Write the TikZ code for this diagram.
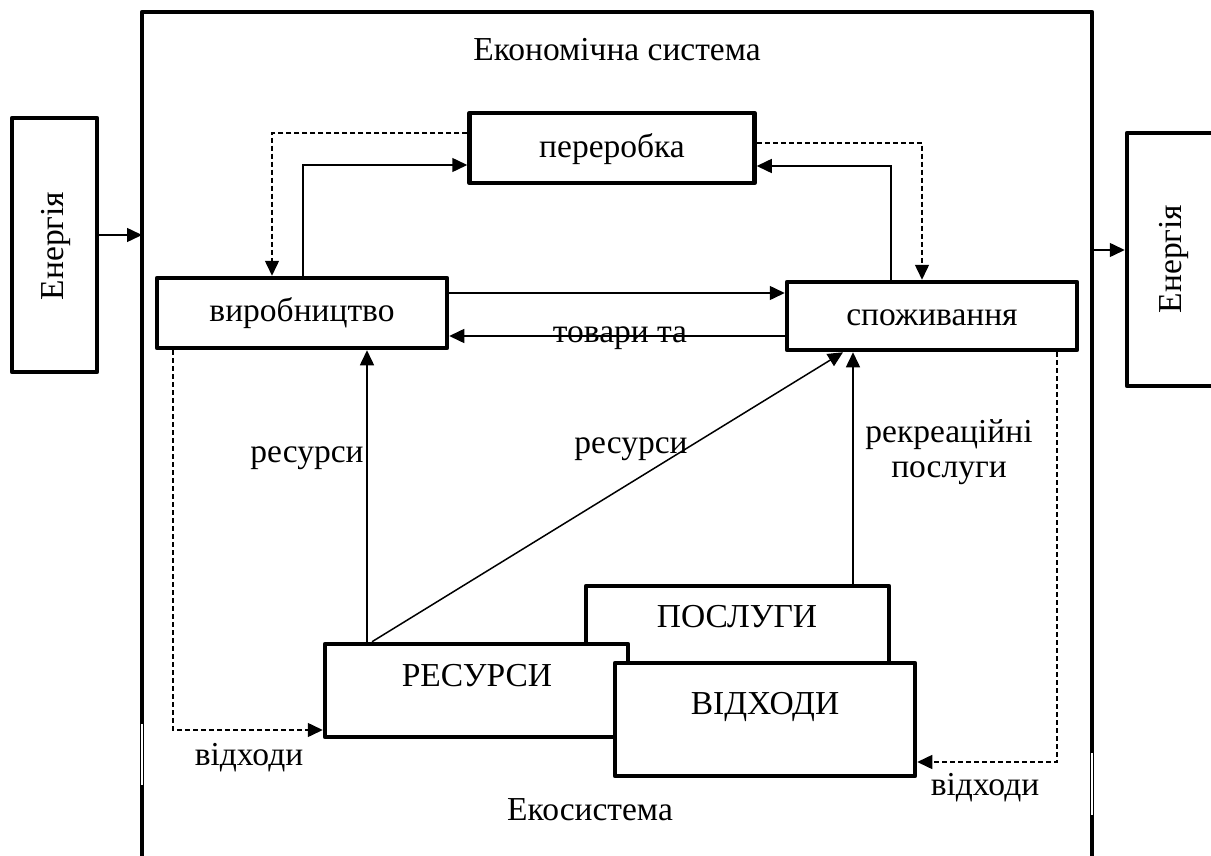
\documentclass[tikz,border=0pt]{standalone}
\usepackage{fontspec}
\setmainfont{Liberation Serif}
\usetikzlibrary{arrows.meta}
\tikzset{
  box/.style={draw, line width=4.5pt, line join=round, fill=white, inner sep=0pt},
  txt/.style={font=\fontsize{33.5}{40}\selectfont, inner sep=0pt, anchor=base},
  conn/.style={line width=1.5pt, -{Triangle[length=15pt,width=14pt]}},
  dconn/.style={conn, dash pattern=on 5pt off 3pt},
  frame/.style={line width=4.5pt, line join=round},
}
\begin{document}
\begin{tikzpicture}[x=1pt,y=-1pt]
\useasboundingbox (0,0) rectangle (1211,856);
% outer frame (open at the bottom)
\draw[frame] (142,862) -- (142,12) -- (1092,12) -- (1092,862);
\draw[white, line width=1.5pt] (142,724) -- (142,785);
\draw[white, line width=1.5pt] (1092,753) -- (1092,815);
\node[txt] (tEcon) at (617,61) {Економічна система};
\node[txt] (tEco) at (590,820) {Екосистема};

% energy boxes
\node[box, minimum width=85pt, minimum height=254pt] (enL) at (54.5,245) {};
\node[txt, rotate=90] (tenL) at (63,246) {Енергія};
\node[box, minimum width=88pt, minimum height=253pt] (enR) at (1171,259.5) {};
\node[txt, rotate=90] (tenR) at (1181,259) {Енергія};
\coordinate (fIn) at (142,235);
\coordinate (fOut) at (1092,250);
\draw[conn] (enL.east |- fIn) -- (fIn);
\draw[conn] (fOut) -- (enR.west |- fOut);

% main boxes
\node[box, minimum width=285pt, minimum height=70pt] (per) at (612,148) {};
\node[txt] (tper) at (612,158) {переробка};
\node[box, minimum width=290pt, minimum height=70pt] (vyr) at (302,313) {};
\node[txt] (tvyr) at (302,321) {виробництво};
\node[box, minimum width=290pt, minimum height=68pt] (spo) at (932,316) {};
\node[txt] (tspo) at (932,325) {споживання};

% ecosystem boxes (overlapping)
\node[box, minimum width=303pt, minimum height=84pt] (pos) at (737.5,628) {};
\node[txt] (tpos) at (737,627) {ПОСЛУГИ};
\node[box, minimum width=303pt, minimum height=93pt] (res) at (476.5,690.5) {};
\node[txt] (tres) at (477,686) {РЕСУРСИ};
\node[box, minimum width=300pt, minimum height=113pt] (vid) at (765,719.5) {};
\node[txt] (tvid) at (765,714) {ВІДХОДИ};

% connectors around переробка
\draw[dconn] (per.west |- 0,133) -| (vyr.north -| 272,0);
\draw[conn] (vyr.north -| 303,0) |- (per.west |- 0,165);
\draw[conn] (spo.north -| 891,0) |- (per.east |- 0,166);
\draw[dconn] (per.east |- 0,143) -| (spo.north -| 922,0);

% goods flows
\draw[conn] (vyr.east |- 0,293) -- (spo.west |- 0,293);
\draw[conn] (spo.west |- 0,336) -- (vyr.east |- 0,336);
\node[txt] (ttov) at (620,342) {товари та};

% resources and services
\draw[conn] (res.north -| 367,0) -- (vyr.south -| 367,0);
\node[txt] (tres1) at (307,462) {ресурси};
\draw[conn] (res.north -| 372,0) -- (spo.south -| 843,0);
\node[txt] (tres2) at (631,453) {ресурси};
\draw[conn] (pos.north -| 853,0) -- (spo.south -| 853,0);
\node[txt] (trek1) at (949,442) {рекреаційні};
\node[txt] (trek2) at (949,477) {послуги};

% wastes
\draw[dconn] (vyr.south -| 173,0) |- (res.west |- 0,730);
\node[txt] (tvid1) at (249,765) {відходи};
\draw[dconn] (spo.south -| 1057,0) |- (vid.east |- 0,762);
\node[txt] (tvid2) at (985,795) {відходи};
\end{tikzpicture}
\end{document}
